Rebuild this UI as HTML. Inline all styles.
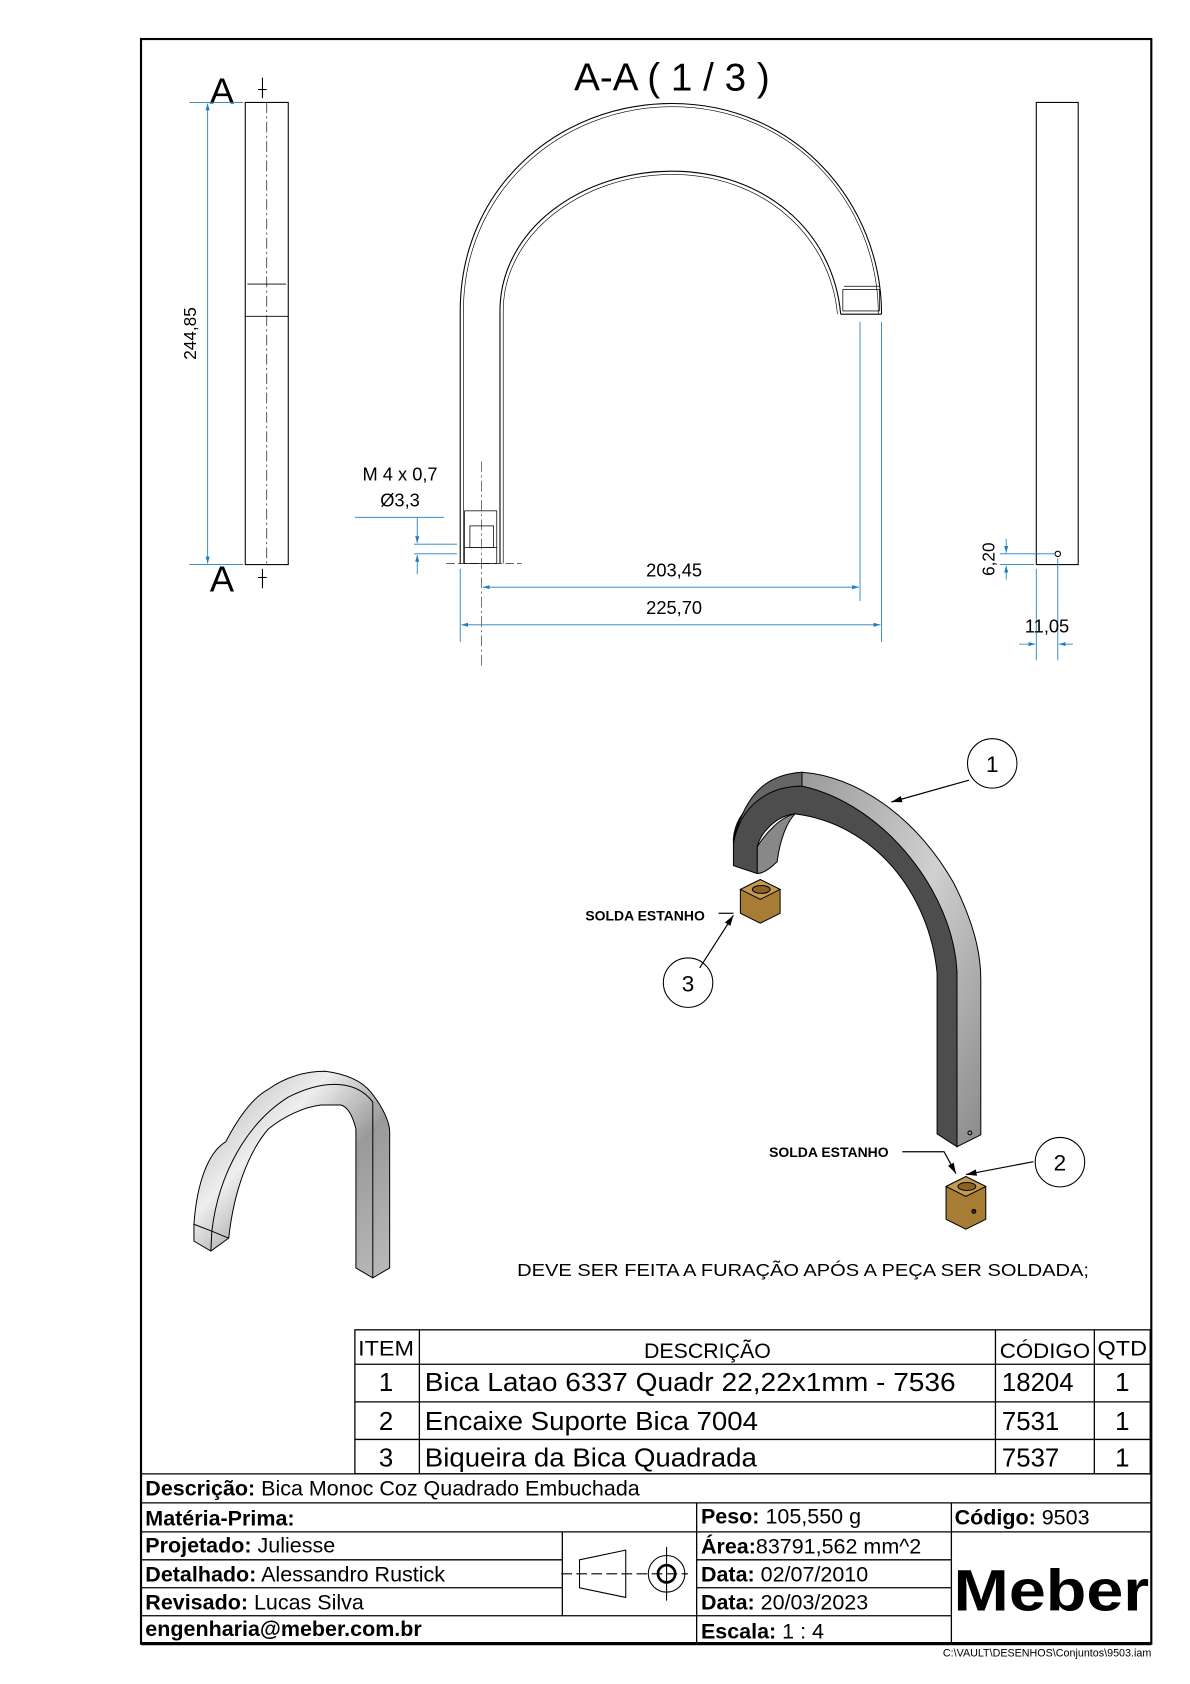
<!DOCTYPE html>
<html><head><meta charset="utf-8"><style>
html,body{margin:0;padding:0;background:#fff;}
svg{display:block;}
text{font-family:"Liberation Sans",sans-serif;}
</style></head><body>
<svg width="1190" height="1684" viewBox="0 0 1190 1684" xmlns="http://www.w3.org/2000/svg">
<defs>
<marker id="ar" viewBox="0 0 10 10" refX="10" refY="5" markerWidth="8" markerHeight="8" orient="auto-start-reverse"><path d="M0,2 L10,5 L0,8 z" fill="#1e7fbf"/></marker>
<marker id="ak" viewBox="0 0 10 10" refX="10" refY="5" markerWidth="9" markerHeight="9" orient="auto"><path d="M0,2 L10,5 L0,8 z" fill="#000"/></marker>
<linearGradient id="gl" x1="0" y1="0" x2="1" y2="1"><stop offset="0" stop-color="#9a9a9a"/><stop offset="0.5" stop-color="#d0d0d0"/><stop offset="1" stop-color="#8a8a8a"/></linearGradient>
<linearGradient id="gs" x1="0" y1="0" x2="1" y2="1"><stop offset="0" stop-color="#aaa"/><stop offset="0.35" stop-color="#eee"/><stop offset="0.6" stop-color="#999"/><stop offset="1" stop-color="#bbb"/></linearGradient>
</defs>
<g transform="translate(141,39) scale(0.9935) translate(-141.7,-40)">
<g transform="scale(1.0818)">
<!-- frame -->
<rect x="131" y="37" width="940" height="1493" fill="none" stroke="#000" stroke-width="2"/>
<line x1="131" y1="1530" x2="1071" y2="1530" stroke="#000" stroke-width="3"/>
<text x="625" y="85" font-size="36" text-anchor="middle">A-A ( 1 / 3 )</text>

<!-- left view -->
<rect x="228" y="96" width="40" height="430" fill="none" stroke="#000" stroke-width="1"/>
<line x1="248" y1="96" x2="248" y2="526" stroke="#000" stroke-width="0.6" stroke-dasharray="10,3,2,3"/>
<line x1="230" y1="265" x2="266" y2="265" stroke="#000" stroke-width="0.8"/>
<line x1="228" y1="295" x2="268" y2="295" stroke="#000" stroke-width="0.8"/>
<text x="195" y="97" font-size="34">A</text>
<text x="195" y="551" font-size="34">A</text>
<line x1="244" y1="73" x2="244" y2="92" stroke="#000"/><line x1="240" y1="84" x2="248" y2="84" stroke="#000"/>
<line x1="244" y1="530" x2="244" y2="548" stroke="#000"/><line x1="240" y1="538" x2="248" y2="538" stroke="#000"/>
<line x1="176" y1="96" x2="226" y2="96" stroke="#1e7fbf" stroke-width="0.8"/>
<line x1="176" y1="526" x2="226" y2="526" stroke="#1e7fbf" stroke-width="0.8"/>
<line x1="193" y1="97" x2="193" y2="525" stroke="#1e7fbf" stroke-width="0.8" marker-start="url(#ar)" marker-end="url(#ar)"/>
<text x="0" y="0" font-size="16" text-anchor="middle" transform="translate(182,311) rotate(-90)">244,85</text>

<!-- main arch -->
<g fill="none" stroke="#000" stroke-width="1">
<path d="M428,525 L428,290 C428,175 520,97 625,97 C740,97 820,190 820,293"/>
<path d="M431,525 L431,290 C431,178 522,100 625,100 C738,100 817,190 817,293" stroke-width="0.6"/>
<path d="M465,525 L465,290 C465,215 540,160 625,160 C710,160 775,215 782,293"/>
<path d="M468,525 L468,290 C468,218 542,163 625,163 C708,163 772,218 779,293" stroke-width="0.6"/>
<line x1="782" y1="293" x2="820" y2="293"/>
<rect x="784" y="270" width="34" height="20" stroke-width="0.7"/>
<line x1="785" y1="267" x2="818" y2="267" stroke-width="0.7"/>
<rect x="432" y="476" width="30" height="49" stroke-width="0.7"/>
<rect x="437" y="490" width="22" height="20" stroke-width="0.7"/>
<line x1="432" y1="510" x2="462" y2="510" stroke-width="0.7"/>
<line x1="415" y1="525" x2="485" y2="525" stroke-width="0.6" stroke-dasharray="8,3"/>
</g>
<line x1="448" y1="430" x2="448" y2="620" stroke="#000" stroke-width="0.5" stroke-dasharray="10,3,2,3"/>
<g stroke="#1e7fbf" stroke-width="0.8" fill="none">
<line x1="428" y1="530" x2="428" y2="598"/>
<line x1="800" y1="300" x2="800" y2="560"/>
<line x1="820" y1="300" x2="820" y2="598"/>
<line x1="449" y1="547" x2="799" y2="547" marker-start="url(#ar)" marker-end="url(#ar)"/>
<line x1="429" y1="582" x2="819" y2="582" marker-start="url(#ar)" marker-end="url(#ar)"/>
<line x1="330" y1="482" x2="413" y2="482"/>
<line x1="385" y1="507" x2="425" y2="507"/>
<line x1="385" y1="516" x2="425" y2="516"/>
<line x1="388" y1="482" x2="388" y2="506" marker-end="url(#ar)"/>
<line x1="388" y1="535" x2="388" y2="517" marker-end="url(#ar)"/>
</g>
<text x="627" y="537" font-size="17" text-anchor="middle">203,45</text>
<text x="627" y="572" font-size="17" text-anchor="middle">225,70</text>
<text x="372" y="448" font-size="17" text-anchor="middle">M 4 x 0,7</text>
<text x="372" y="472" font-size="17" text-anchor="middle">Ø3,3</text>

<!-- right view -->
<rect x="964" y="96" width="39" height="430" fill="none" stroke="#000" stroke-width="1"/>
<circle cx="984" cy="516" r="2.5" fill="none" stroke="#000"/>
<g stroke="#1e7fbf" stroke-width="0.8" fill="none">
<line x1="930" y1="516" x2="982" y2="516"/>
<line x1="930" y1="526" x2="962" y2="526"/>
<line x1="936" y1="502" x2="936" y2="515" marker-end="url(#ar)"/>
<line x1="936" y1="540" x2="936" y2="527" marker-end="url(#ar)"/>
<line x1="964" y1="530" x2="964" y2="615"/>
<line x1="984" y1="520" x2="984" y2="615"/>
<line x1="948" y1="600" x2="963" y2="600" marker-end="url(#ar)"/>
<line x1="998" y1="600" x2="985" y2="600" marker-end="url(#ar)"/>
</g>
<text x="0" y="0" font-size="16" text-anchor="middle" transform="translate(925,521) rotate(-90)">6,20</text>
<text x="974" y="589" font-size="17" text-anchor="middle">11,05</text>

<!-- balloons & labels -->
<circle cx="923" cy="711" r="23" fill="#fff" stroke="#000"/>
<text x="923" y="719" font-size="21" text-anchor="middle">1</text>
<circle cx="640" cy="915" r="23" fill="#fff" stroke="#000"/>
<text x="640" y="923" font-size="21" text-anchor="middle">3</text>
<circle cx="986" cy="1082" r="23" fill="#fff" stroke="#000"/>
<text x="986" y="1090" font-size="21" text-anchor="middle">2</text>
<text x="600" y="857" font-size="13" font-weight="bold" text-anchor="middle">SOLDA ESTANHO</text>
<text x="771" y="1077" font-size="13" font-weight="bold" text-anchor="middle">SOLDA ESTANHO</text>
<text x="747" y="1188" font-size="16" text-anchor="middle" textLength="532" lengthAdjust="spacingAndGlyphs">DEVE SER FEITA A FURAÇÃO APÓS A PEÇA SER SOLDADA;</text>
</g>

<!-- big iso (real coords) -->
<g stroke="#000" stroke-width="1">
<path d="M807,778 C860,782 920,820 960,890 C985,940 987,970 987,987 L987,1143 L963,1155 L963,980 C955,900 900,820 807,792 Z" fill="url(#gl)"/>
<path d="M807,792 C890,810 960,900 963,980 L963,1155 L943,1142 L943,980 C935,900 880,830 800,820 C780,822 765,840 762,853 L762,880 L738,872 L738,845 C740,815 770,792 807,792 Z" fill="#4d4d4d"/>
<path d="M800,820 C785,823 770,840 762,853 L762,880 C770,880 780,870 782,868 C785,845 792,828 800,820 Z" fill="#888"/>
<path d="M807,778 C775,780 752,795 738,845 L738,850 C745,810 775,792 807,792 Z" fill="#666"/>
<circle cx="976" cy="1141" r="2" fill="none"/>
</g>
<g stroke="#000" stroke-width="1">
<path d="M745,896 L765,886 L785,896 L785,920 L765,930 L745,920 Z" fill="#a77d35"/>
<path d="M745,896 L765,886 L785,896 L765,906 Z" fill="#c49a50"/>
<ellipse cx="766" cy="896" rx="9" ry="4" fill="#8a6426"/>
<path d="M952,1195 L972,1185 L992,1195 L992,1228 L972,1238 L952,1228 Z" fill="#a77d35"/>
<path d="M952,1195 L972,1185 L992,1195 L972,1205 Z" fill="#c49a50"/>
<ellipse cx="973" cy="1195" rx="9" ry="4" fill="#8a6426"/>
<circle cx="980" cy="1220" r="2" fill="#333"/>
</g>
<g stroke="#000" stroke-width="1.2" fill="none">
<line x1="975" y1="786" x2="897" y2="808" marker-end="url(#ak)"/>
<line x1="704" y1="975" x2="738" y2="922" marker-end="url(#ak)"/>
<line x1="723" y1="920" x2="738" y2="920"/>
<line x1="1040" y1="1170" x2="972" y2="1183" marker-end="url(#ak)"/>
<path d="M908,1160 L950,1160 L962,1182" marker-end="url(#ak)"/>
</g>

<!-- small iso -->
<g stroke="#000" stroke-width="1">
<path d="M195,1233 C198,1190 210,1160 227,1150 C240,1125 255,1105 270,1097 C290,1083 310,1079 327,1079 C350,1082 365,1090 373,1100 C385,1115 392,1130 392,1140 L392,1277 L375,1287 L358,1277 L358,1137 C355,1125 350,1115 343,1113 L323,1113 C305,1115 285,1125 270,1137 C250,1160 235,1200 230,1247 L212,1260 L195,1250 Z" fill="url(#gs)"/>
<path d="M213,1240 C220,1180 250,1130 290,1105 C330,1085 360,1090 375,1110 L375,1287" fill="none"/>
<path d="M195,1233 L213,1240 L230,1247" fill="none"/>
<line x1="212" y1="1260" x2="213" y2="1240"/>
</g>

<g transform="scale(1.0818)">
<!-- parts list -->
<g stroke="#000" stroke-width="1.2" fill="none">
<rect x="330" y="1238" width="740" height="134"/>
<line x1="330" y1="1270" x2="1070" y2="1270"/>
<line x1="330" y1="1305" x2="1070" y2="1305"/>
<line x1="330" y1="1340" x2="1070" y2="1340"/>
<line x1="390" y1="1238" x2="390" y2="1372"/>
<line x1="926" y1="1238" x2="926" y2="1372"/>
<line x1="1018" y1="1238" x2="1018" y2="1372"/>
</g>
<g font-size="20">
<text x="359" y="1262" text-anchor="middle" textLength="52" lengthAdjust="spacingAndGlyphs">ITEM</text>
<text x="658" y="1264" text-anchor="middle" textLength="118" lengthAdjust="spacingAndGlyphs">DESCRIÇÃO</text>
<text x="972" y="1264" text-anchor="middle" textLength="84" lengthAdjust="spacingAndGlyphs">CÓDIGO</text>
<text x="1044" y="1262" text-anchor="middle" textLength="46" lengthAdjust="spacingAndGlyphs">QTD</text>
</g>
<g font-size="24">
<text x="359" y="1295" text-anchor="middle">1</text>
<text x="395" y="1295" textLength="494" lengthAdjust="spacingAndGlyphs">Bica Latao 6337 Quadr 22,22x1mm  - 7536</text>
<text x="932" y="1295">18204</text><text x="1044" y="1295" text-anchor="middle">1</text>
<text x="359" y="1331" text-anchor="middle">2</text>
<text x="395" y="1331" textLength="310" lengthAdjust="spacingAndGlyphs">Encaixe Suporte Bica 7004</text>
<text x="932" y="1331">7531</text><text x="1044" y="1331" text-anchor="middle">1</text>
<text x="359" y="1365" text-anchor="middle">3</text>
<text x="395" y="1365" textLength="309" lengthAdjust="spacingAndGlyphs">Biqueira da Bica Quadrada</text>
<text x="932" y="1365">7537</text><text x="1044" y="1365" text-anchor="middle">1</text>
</g>
<!-- title block -->
<g stroke="#000" stroke-width="1.2" fill="none">
<line x1="131" y1="1372" x2="1071" y2="1372"/>
<line x1="131" y1="1399" x2="1071" y2="1399"/>
<line x1="131" y1="1426" x2="1071" y2="1426"/>
<line x1="131" y1="1452" x2="523" y2="1452"/>
<line x1="648" y1="1452" x2="885" y2="1452"/>
<line x1="131" y1="1478" x2="523" y2="1478"/>
<line x1="648" y1="1478" x2="885" y2="1478"/>
<line x1="131" y1="1504" x2="885" y2="1504"/>
<line x1="648" y1="1399" x2="648" y2="1530"/>
<line x1="885" y1="1399" x2="885" y2="1530"/>
<line x1="523" y1="1426" x2="523" y2="1504"/>
<path d="M539,1452 L582,1443 L582,1487 L539,1478 Z" stroke-width="1"/>
<line x1="522" y1="1465" x2="640" y2="1465" stroke-width="1" stroke-dasharray="10,4"/>
<circle cx="620" cy="1465" r="17" stroke-width="1"/>
<circle cx="620" cy="1465" r="8" stroke-width="2.5"/>
<line x1="620" y1="1440" x2="620" y2="1490" stroke-width="1"/>
</g>
<g font-size="20">
<text x="135" y="1392"><tspan font-weight="bold">Descrição:</tspan> Bica Monoc Coz Quadrado Embuchada</text>
<text x="135" y="1420" font-weight="bold">Matéria-Prima:</text>
<text x="135" y="1445"><tspan font-weight="bold">Projetado:</tspan> Juliesse</text>
<text x="135" y="1472"><tspan font-weight="bold">Detalhado:</tspan> Alessandro Rustick</text>
<text x="135" y="1498"><tspan font-weight="bold">Revisado:</tspan> Lucas Silva</text>
<text x="135" y="1523" font-weight="bold">engenharia@meber.com.br</text>
<text x="652" y="1418"><tspan font-weight="bold">Peso:</tspan> 105,550 g</text>
<text x="652" y="1446"><tspan font-weight="bold">Área:</tspan>83791,562 mm^2</text>
<text x="652" y="1472"><tspan font-weight="bold">Data:</tspan> 02/07/2010</text>
<text x="652" y="1498"><tspan font-weight="bold">Data:</tspan> 20/03/2023</text>
<text x="652" y="1525"><tspan font-weight="bold">Escala:</tspan> 1 : 4</text>
<text x="888" y="1419"><tspan font-weight="bold">Código:</tspan> 9503</text>
</g>
<text x="978" y="1499" font-size="54" font-weight="bold" text-anchor="middle" textLength="182" lengthAdjust="spacingAndGlyphs">Meber</text>
<text x="1071" y="1542" font-size="10" text-anchor="end">C:\VAULT\DESENHOS\Conjuntos\9503.iam</text>
</g>
</g>
</svg>
</body></html>
